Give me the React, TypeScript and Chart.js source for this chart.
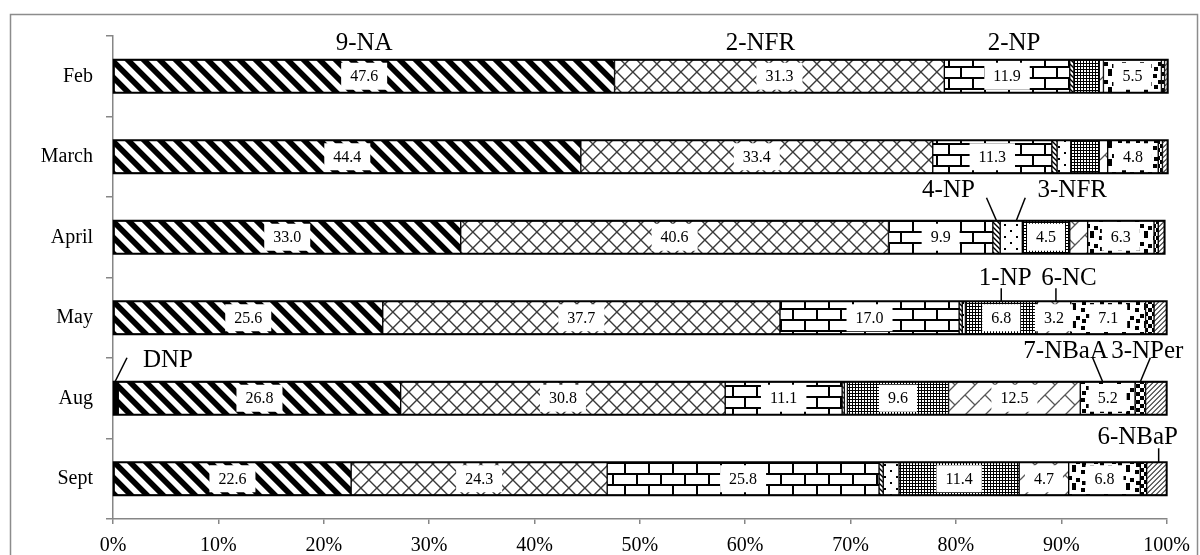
import React, { useEffect, useRef } from "react";
import { Chart, registerables } from "chart.js";
Chart.register(...registerables);

const months = ["Feb", "March", "April", "May", "Aug", "Sept"];
const seriesNames = ["DNP", "9-NA", "2-NFR", "2-NP", "4-NP", "3-NFR", "1-NP", "6-NC", "7-NBaA", "3-NPer", "6-NBaP"];
const DNP = [0, 0, 0, 0, 0.5, 0];
const NA9 = [47.6, 44.4, 33.0, 25.6, 26.8, 22.6];
const NFR2 = [31.3, 33.4, 40.6, 37.7, 30.8, 24.3];
const NP2 = [11.9, 11.3, 9.9, 17.0, 11.1, 25.8];
const NP4 = [0.4, 0.5, 0.7, 0.3, 0.2, 0.4];
const NFR3 = [0, 1.3, 2.1, 0.3, 0.3, 1.5];
const NP1 = [2.4, 2.7, 4.5, 6.8, 9.6, 11.4];
const NC6 = [0.4, 0.8, 1.7, 3.2, 12.5, 4.7];
const NBaA7 = [5.5, 4.8, 6.3, 7.1, 5.2, 6.8];
const NPer3 = [0.3, 0.4, 0.4, 0.8, 1.0, 0.6];
const NBaP6 = [0.3, 0.5, 0.6, 1.2, 2.0, 1.9];
const seriesValues = [DNP, NA9, NFR2, NP2, NP4, NFR3, NP1, NC6, NBaA7, NPer3, NBaP6];
const xTicks = [0, 10, 20, 30, 40, 50, 60, 70, 80, 90, 100];

// callout labels: series index, category index, text offset and leader line offsets
const callouts = [
  { series: 1, cat: 0, tx: 0, ty: -16 },
  { series: 2, cat: 0, tx: -19, ty: -16 },
  { series: 3, cat: 0, tx: 7, ty: -16 },
  { series: 4, cat: 2, tx: -48, ty: -30, line: [-10, -23, 0, 0] },
  { series: 5, cat: 2, tx: 61, ty: -30, line: [14, -23, 5, 0] },
  { series: 6, cat: 3, tx: 4, ty: -23, line: [0, -13, 0, 0] },
  { series: 7, cat: 3, tx: 15, ty: -23, line: [2, -13, 2, 0] },
  { series: 0, cat: 4, tx: 52, ty: -21, line: [11, -24, -1, 0] },
  { series: 8, cat: 4, tx: -42, ty: -30, line: [-15, -24, -5, 0] },
  { series: 9, cat: 4, tx: 7, ty: -30, line: [10, -24, 0, 0] },
  { series: 10, cat: 5, tx: -19, ty: -25, line: [2, -14, 2, 0] },
];

const SERIF = '"Liberation Serif", "Times New Roman", serif';

function mk(w: number, h: number, draw: (g: CanvasRenderingContext2D) => void, bg = "#fff") {
  const c = document.createElement("canvas");
  c.width = w;
  c.height = h;
  const g = c.getContext("2d")!;
  g.fillStyle = bg;
  g.fillRect(0, 0, w, h);
  draw(g);
  return g.createPattern(c, "repeat")!;
}

// seamless diagonal stripes computed per pixel; dir 1 = "\" , -1 = "/"
function stripes(S: number, W: number, dir: number, ink: number) {
  const c = document.createElement("canvas");
  c.width = S;
  c.height = S;
  const g = c.getContext("2d")!;
  const img = g.createImageData(S, S);
  for (let y = 0; y < S; y++) {
    for (let x = 0; x < S; x++) {
      let cov = 0;
      for (let sy = 0; sy < 4; sy++) {
        for (let sx = 0; sx < 4; sx++) {
          const px = x + (sx + 0.5) / 4;
          const py = y + (sy + 0.5) / 4;
          const t = dir > 0 ? px - py : px + py;
          const d = ((t % S) + S) % S;
          if (d < W) cov++;
        }
      }
      const a = cov / 16;
      const v = Math.round(255 - a * (255 - ink));
      const i = (y * S + x) * 4;
      img.data[i] = v;
      img.data[i + 1] = v;
      img.data[i + 2] = v;
      img.data[i + 3] = 255;
    }
  }
  g.putImageData(img, 0, 0);
  return g.createPattern(c, "repeat")!;
}

function crossHatch(S: number, W: number, ink: number) {
  const c = document.createElement("canvas");
  c.width = S;
  c.height = S;
  const g = c.getContext("2d")!;
  const img = g.createImageData(S, S);
  for (let y = 0; y < S; y++) {
    for (let x = 0; x < S; x++) {
      let cov = 0;
      for (let sy = 0; sy < 4; sy++) {
        for (let sx = 0; sx < 4; sx++) {
          const px = x + (sx + 0.5) / 4;
          const py = y + (sy + 0.5) / 4;
          const d1 = (((px - py) % S) + S) % S;
          const d2 = (((px + py) % S) + S) % S;
          if (d1 < W || d2 < W) cov++;
        }
      }
      const a = cov / 16;
      const v = Math.round(255 - a * (255 - ink));
      const i = (y * S + x) * 4;
      img.data[i] = v;
      img.data[i + 1] = v;
      img.data[i + 2] = v;
      img.data[i + 3] = 255;
    }
  }
  g.putImageData(img, 0, 0);
  return g.createPattern(c, "repeat")!;
}

function makePatterns(): (string | CanvasPattern)[] {
  return [
    "#000",
    stripes(16, 8, 1, 0),
    crossHatch(16, 2, 60),
    mk(24, 22, (g) => {
      g.fillStyle = "#000";
      g.fillRect(0, 0, 24, 2);
      g.fillRect(0, 11, 24, 2);
      g.fillRect(0, 0, 2, 11);
      g.fillRect(12, 11, 2, 11);
    }),
    stripes(5, 2, 1, 0),
    mk(12, 12, (g) => {
      g.fillStyle = "#000";
      g.fillRect(2, 2, 2, 2);
      g.fillRect(8, 8, 2, 2);
    }),
    mk(3, 3, (g) => {
      g.fillStyle = "#000";
      g.fillRect(0, 0, 3, 1);
      g.fillRect(0, 0, 1, 3);
    }),
    mk(20, 20, (g) => {
      g.strokeStyle = "#555";
      g.lineWidth = 1.3;
      g.beginPath();
      for (const k of [-20, 0, 20]) {
        g.moveTo(k, 20);
        g.lineTo(k + 20, 0);
      }
      g.moveTo(5, 15);
      g.lineTo(15, 25);
      g.moveTo(5, -5);
      g.lineTo(15, 5);
      g.stroke();
    }),
    mk(18, 18, (g) => {
      g.fillStyle = "#000";
      const sq = [
        [1, 2],
        [10, 0],
        [6, 8],
        [14, 10],
        [2, 13],
        [10, 15],
      ];
      for (const [x, y] of sq) g.fillRect(x, y, 4, 4);
    }),
    mk(8, 8, (g) => {
      g.fillStyle = "#000";
      g.fillRect(0, 0, 4, 4);
      g.fillRect(4, 4, 4, 4);
    }),
    stripes(5, 1.4, -1, 50),
  ];
}

export default function App() {
  const ref = useRef<HTMLCanvasElement>(null);
  useEffect(() => {
    const canvas = ref.current!;
    const pats = makePatterns();
    const datasets = seriesNames.map((name, i) => ({
      label: name,
      data: seriesValues[i].map((v) => (v === 0 ? null : v)),
      backgroundColor: pats[i],
      borderColor: "#000",
      borderWidth: 1,
      borderSkipped: false as const,
      barThickness: 33,
    }));

    const framePlugin = {
      id: "frame",
      beforeDraw(chart: any) {
        const ctx = chart.ctx;
        ctx.save();
        ctx.fillStyle = "#fff";
        ctx.fillRect(0, 0, chart.width, chart.height);
        ctx.strokeStyle = "#8c8c8c";
        ctx.lineWidth = 1.5;
        ctx.strokeRect(10.5, 14.5, 1187, 600);
        ctx.restore();
      },
    };

    const labelPlugin = {
      id: "vlabels",
      afterDatasetsDraw(chart: any) {
        const ctx = chart.ctx;
        ctx.save();
        // outline of each whole bar
        const n = chart.data.labels.length;
        ctx.strokeStyle = "#000";
        ctx.lineWidth = 2;
        for (let i = 0; i < n; i++) {
          let lo = Infinity, hi = -Infinity, y = 0, h = 0;
          chart.data.datasets.forEach((ds: any, di: number) => {
            const el: any = chart.getDatasetMeta(di).data[i];
            if (!el || ds.data[i] == null) return;
            lo = Math.min(lo, el.base, el.x);
            hi = Math.max(hi, el.base, el.x);
            y = el.y;
            h = el.height;
          });
          if (isFinite(lo)) ctx.strokeRect(lo, y - h / 2, hi - lo, h);
        }
        ctx.font = `16px ${SERIF}`;
        chart.data.datasets.forEach((ds: any, di: number) => {
          const meta = chart.getDatasetMeta(di);
          meta.data.forEach((el: any, i: number) => {
            const v = ds.data[i];
            if (v == null || v < 3) return;
            const cx = (el.x + el.base) / 2;
            const cy = el.y;
            const txt = v.toFixed(1);
            const w = ctx.measureText(txt).width + 18;
            ctx.fillStyle = "#fff";
            ctx.fillRect(cx - w / 2, cy - 13.5, w, 27);
            ctx.fillStyle = "#000";
            ctx.textAlign = "center";
            ctx.textBaseline = "middle";
            ctx.fillText(txt, cx, cy + 1);
          });
        });
        // callouts
        ctx.font = `25px ${SERIF}`;
        ctx.strokeStyle = "#000";
        ctx.lineWidth = 1.5;
        for (const c of callouts) {
          const el: any = chart.getDatasetMeta(c.series).data[c.cat];
          if (!el) continue;
          const cx = (el.x + el.base) / 2;
          const top = el.y - el.height / 2;
          ctx.fillStyle = "#000";
          ctx.textAlign = "center";
          ctx.textBaseline = "middle";
          ctx.fillText(seriesNames[c.series], cx + c.tx, top + c.ty);
          if (c.line) {
            ctx.beginPath();
            ctx.moveTo(cx + c.line[0], top + c.line[1]);
            ctx.lineTo(cx + c.line[2], top + c.line[3]);
            ctx.stroke();
          }
        }
        ctx.restore();
      },
    };

    const chart = new Chart(canvas, {
      type: "bar",
      data: { labels: months, datasets },
      options: {
        indexAxis: "y",
        responsive: false,
        animation: false,
        devicePixelRatio: 1,
        layout: { padding: { top: 36, right: 31, left: 0, bottom: 0 } },
        plugins: { legend: { display: false }, tooltip: { enabled: false } },
        scales: {
          x: {
            stacked: true,
            min: 0,
            max: 100,
            afterFit: (s: any) => {
              s.height = 36;
            },
            afterBuildTicks: (s: any) => {
              s.ticks = xTicks.map((v) => ({ value: v }));
            },
            ticks: {
              padding: 10,
              color: "#000",
              font: { family: SERIF, size: 20 },
              callback: (v: any) => v + "%",
            },
            grid: { drawOnChartArea: false, tickLength: 5, color: "#868686", lineWidth: 1.5 },
            border: { color: "#868686", width: 1.5 },
          },
          y: {
            stacked: true,
            afterFit: (s: any) => {
              s.width = 113;
            },
            ticks: {
              padding: 13,
              color: "#000",
              font: { family: SERIF, size: 20 },
            },
            grid: { offset: true, drawOnChartArea: false, tickLength: 7, color: "#868686", lineWidth: 1.5 },
            border: { color: "#868686", width: 1.5 },
          },
        },
      },
      plugins: [framePlugin, labelPlugin],
    });
    return () => chart.destroy();
  }, []);
  return (
    <div style={{ position: "absolute", left: 0, top: 0, width: 1200, height: 555, background: "#fff" }}>
      <canvas ref={ref} width={1200} height={555} style={{ display: "block", width: 1200, height: 555 }} />
    </div>
  );
}
